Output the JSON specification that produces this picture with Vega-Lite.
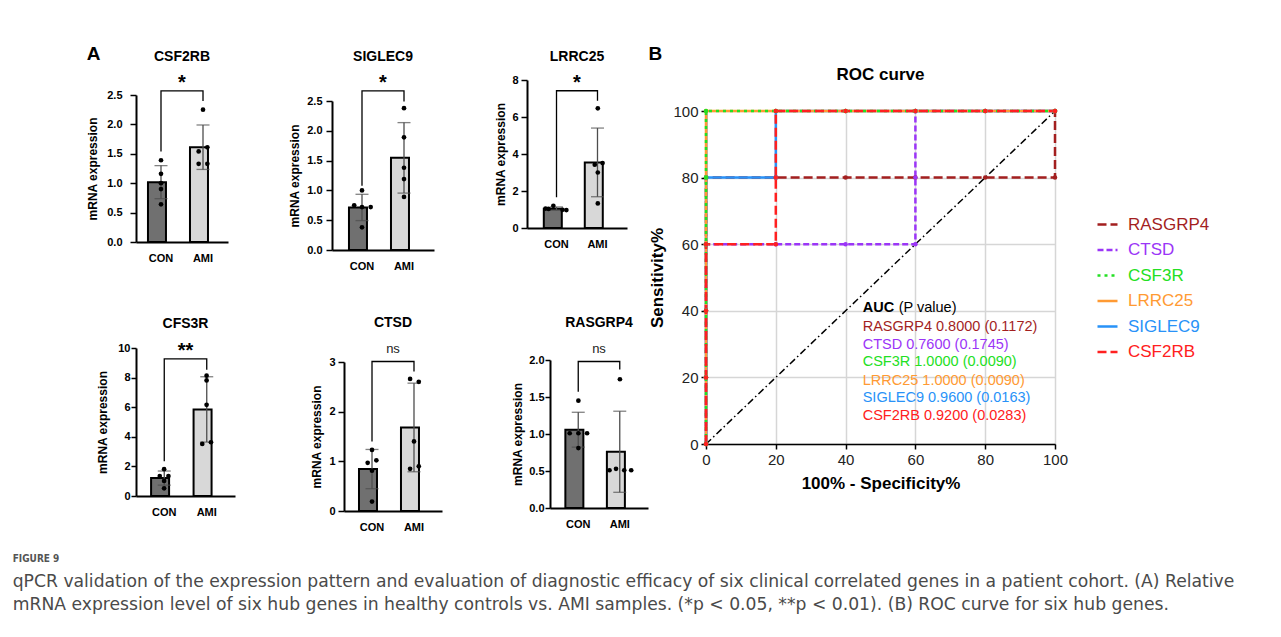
{
  "$schema": "https://vega.github.io/schema/vega-lite/v6.json",
  "background": "white",
  "padding": {"left": 12, "top": 44, "right": 5, "bottom": 5},
  "datasets": {
    "expr": [
      {"gene": "CSF2RB", "group": "CON", "slot": 0, "value": 1.39},
      {"gene": "CSF2RB", "group": "CON", "slot": 0, "value": 1.16},
      {"gene": "CSF2RB", "group": "CON", "slot": 0, "value": 1.0},
      {"gene": "CSF2RB", "group": "CON", "slot": 0, "value": 0.9},
      {"gene": "CSF2RB", "group": "CON", "slot": 0, "value": 0.64},
      {"gene": "CSF2RB", "group": "AMI", "slot": 0, "value": 2.25},
      {"gene": "CSF2RB", "group": "AMI", "slot": 1, "value": 1.61},
      {"gene": "CSF2RB", "group": "AMI", "slot": -1, "value": 1.54},
      {"gene": "CSF2RB", "group": "AMI", "slot": -1, "value": 1.33},
      {"gene": "CSF2RB", "group": "AMI", "slot": 1, "value": 1.33},
      {"gene": "SIGLEC9", "group": "CON", "slot": 0, "value": 1.0},
      {"gene": "SIGLEC9", "group": "CON", "slot": -1.8, "value": 0.75},
      {"gene": "SIGLEC9", "group": "CON", "slot": 0, "value": 0.72},
      {"gene": "SIGLEC9", "group": "CON", "slot": 2, "value": 0.72},
      {"gene": "SIGLEC9", "group": "CON", "slot": 0, "value": 0.38},
      {"gene": "SIGLEC9", "group": "AMI", "slot": 0, "value": 2.38},
      {"gene": "SIGLEC9", "group": "AMI", "slot": 0, "value": 1.89},
      {"gene": "SIGLEC9", "group": "AMI", "slot": 0, "value": 1.38},
      {"gene": "SIGLEC9", "group": "AMI", "slot": 0, "value": 1.19},
      {"gene": "SIGLEC9", "group": "AMI", "slot": 0, "value": 0.89},
      {"gene": "LRRC25", "group": "CON", "slot": -0.8, "value": 1.2},
      {"gene": "LRRC25", "group": "CON", "slot": -2.6, "value": 1.05},
      {"gene": "LRRC25", "group": "CON", "slot": -1.9, "value": 1.03},
      {"gene": "LRRC25", "group": "CON", "slot": 1.3, "value": 0.98},
      {"gene": "LRRC25", "group": "CON", "slot": 2.2, "value": 0.97},
      {"gene": "LRRC25", "group": "AMI", "slot": 0, "value": 6.47},
      {"gene": "LRRC25", "group": "AMI", "slot": -0.7, "value": 3.42},
      {"gene": "LRRC25", "group": "AMI", "slot": 1.1, "value": 3.51},
      {"gene": "LRRC25", "group": "AMI", "slot": 0, "value": 3.0},
      {"gene": "LRRC25", "group": "AMI", "slot": 0, "value": 1.33},
      {"gene": "CFS3R", "group": "CON", "slot": 0, "value": 1.81},
      {"gene": "CFS3R", "group": "CON", "slot": -1, "value": 1.35},
      {"gene": "CFS3R", "group": "CON", "slot": 1, "value": 1.35},
      {"gene": "CFS3R", "group": "CON", "slot": 0, "value": 1.02},
      {"gene": "CFS3R", "group": "CON", "slot": 0, "value": 0.52},
      {"gene": "CFS3R", "group": "AMI", "slot": 0, "value": 8.13},
      {"gene": "CFS3R", "group": "AMI", "slot": 0, "value": 7.81},
      {"gene": "CFS3R", "group": "AMI", "slot": 0, "value": 6.16},
      {"gene": "CFS3R", "group": "AMI", "slot": -1, "value": 3.52},
      {"gene": "CFS3R", "group": "AMI", "slot": 1, "value": 3.63},
      {"gene": "CTSD", "group": "CON", "slot": 0, "value": 1.23},
      {"gene": "CTSD", "group": "CON", "slot": -1, "value": 0.97},
      {"gene": "CTSD", "group": "CON", "slot": 1, "value": 1.02},
      {"gene": "CTSD", "group": "CON", "slot": 0, "value": 0.81},
      {"gene": "CTSD", "group": "CON", "slot": 0, "value": 0.19},
      {"gene": "CTSD", "group": "AMI", "slot": -0.9, "value": 2.66},
      {"gene": "CTSD", "group": "AMI", "slot": 1.1, "value": 2.6},
      {"gene": "CTSD", "group": "AMI", "slot": 0, "value": 1.4},
      {"gene": "CTSD", "group": "AMI", "slot": -0.9, "value": 0.85},
      {"gene": "CTSD", "group": "AMI", "slot": 1.1, "value": 0.9},
      {"gene": "RASGRP4", "group": "CON", "slot": 0, "value": 1.45},
      {"gene": "RASGRP4", "group": "CON", "slot": -2, "value": 1.01},
      {"gene": "RASGRP4", "group": "CON", "slot": 0, "value": 1.01},
      {"gene": "RASGRP4", "group": "CON", "slot": 2, "value": 1.01},
      {"gene": "RASGRP4", "group": "CON", "slot": 0, "value": 0.81},
      {"gene": "RASGRP4", "group": "AMI", "slot": 0, "value": 1.74},
      {"gene": "RASGRP4", "group": "AMI", "slot": -2.4, "value": 0.51},
      {"gene": "RASGRP4", "group": "AMI", "slot": -0.9, "value": 0.53},
      {"gene": "RASGRP4", "group": "AMI", "slot": 1, "value": 0.51},
      {"gene": "RASGRP4", "group": "AMI", "slot": 2.6, "value": 0.51}
    ],
    "bracket": [
      {"gene": "CSF2RB", "group": "CON", "ord": 1, "y": 1.54},
      {"gene": "CSF2RB", "group": "CON", "ord": 2, "y": 2.57},
      {"gene": "CSF2RB", "group": "AMI", "ord": 3, "y": 2.57},
      {"gene": "CSF2RB", "group": "AMI", "ord": 4, "y": 2.4},
      {"gene": "SIGLEC9", "group": "CON", "ord": 1, "y": 1.08},
      {"gene": "SIGLEC9", "group": "CON", "ord": 2, "y": 2.67},
      {"gene": "SIGLEC9", "group": "AMI", "ord": 3, "y": 2.67},
      {"gene": "SIGLEC9", "group": "AMI", "ord": 4, "y": 2.49},
      {"gene": "LRRC25", "group": "CON", "ord": 1, "y": 1.66},
      {"gene": "LRRC25", "group": "CON", "ord": 2, "y": 7.42},
      {"gene": "LRRC25", "group": "AMI", "ord": 3, "y": 7.42},
      {"gene": "LRRC25", "group": "AMI", "ord": 4, "y": 6.88},
      {"gene": "CFS3R", "group": "CON", "ord": 1, "y": 2.34},
      {"gene": "CFS3R", "group": "CON", "ord": 2, "y": 9.26},
      {"gene": "CFS3R", "group": "AMI", "ord": 3, "y": 9.26},
      {"gene": "CFS3R", "group": "AMI", "ord": 4, "y": 8.53},
      {"gene": "CTSD", "group": "CON", "ord": 1, "y": 1.4},
      {"gene": "CTSD", "group": "CON", "ord": 2, "y": 3.01},
      {"gene": "CTSD", "group": "AMI", "ord": 3, "y": 3.01},
      {"gene": "CTSD", "group": "AMI", "ord": 4, "y": 2.81},
      {"gene": "RASGRP4", "group": "CON", "ord": 1, "y": 1.57},
      {"gene": "RASGRP4", "group": "CON", "ord": 2, "y": 1.98},
      {"gene": "RASGRP4", "group": "AMI", "ord": 3, "y": 1.98},
      {"gene": "RASGRP4", "group": "AMI", "ord": 4, "y": 1.87}
    ],
    "sig": [
      {"gene": "CSF2RB", "group": "CON", "label": "*", "y": 2.7},
      {"gene": "SIGLEC9", "group": "CON", "label": "*", "y": 2.8},
      {"gene": "LRRC25", "group": "CON", "label": "*", "y": 7.82},
      {"gene": "CFS3R", "group": "CON", "label": "**", "y": 9.8},
      {"gene": "CTSD", "group": "CON", "label": "ns", "y": 3.26},
      {"gene": "RASGRP4", "group": "CON", "label": "ns", "y": 2.15}
    ],
    "roc": [
      {"gene": "RASGRP4", "step": 1, "fpr": 0, "tpr": 0},
      {"gene": "RASGRP4", "step": 2, "fpr": 0, "tpr": 20},
      {"gene": "RASGRP4", "step": 3, "fpr": 0, "tpr": 40},
      {"gene": "RASGRP4", "step": 4, "fpr": 0, "tpr": 60},
      {"gene": "RASGRP4", "step": 5, "fpr": 0, "tpr": 80},
      {"gene": "RASGRP4", "step": 6, "fpr": 20, "tpr": 80},
      {"gene": "RASGRP4", "step": 7, "fpr": 40, "tpr": 80},
      {"gene": "RASGRP4", "step": 8, "fpr": 60, "tpr": 80},
      {"gene": "RASGRP4", "step": 9, "fpr": 80, "tpr": 80},
      {"gene": "RASGRP4", "step": 10, "fpr": 100, "tpr": 80},
      {"gene": "RASGRP4", "step": 11, "fpr": 100, "tpr": 100},
      {"gene": "CTSD", "step": 1, "fpr": 0, "tpr": 0},
      {"gene": "CTSD", "step": 2, "fpr": 0, "tpr": 20},
      {"gene": "CTSD", "step": 3, "fpr": 0, "tpr": 40},
      {"gene": "CTSD", "step": 4, "fpr": 0, "tpr": 60},
      {"gene": "CTSD", "step": 5, "fpr": 20, "tpr": 60},
      {"gene": "CTSD", "step": 6, "fpr": 40, "tpr": 60},
      {"gene": "CTSD", "step": 7, "fpr": 60, "tpr": 60},
      {"gene": "CTSD", "step": 8, "fpr": 60, "tpr": 80},
      {"gene": "CTSD", "step": 9, "fpr": 60, "tpr": 100},
      {"gene": "CTSD", "step": 10, "fpr": 80, "tpr": 100},
      {"gene": "CTSD", "step": 11, "fpr": 100, "tpr": 100},
      {"gene": "SIGLEC9", "step": 1, "fpr": 0, "tpr": 0},
      {"gene": "SIGLEC9", "step": 2, "fpr": 0, "tpr": 20},
      {"gene": "SIGLEC9", "step": 3, "fpr": 0, "tpr": 40},
      {"gene": "SIGLEC9", "step": 4, "fpr": 0, "tpr": 60},
      {"gene": "SIGLEC9", "step": 5, "fpr": 0, "tpr": 80},
      {"gene": "SIGLEC9", "step": 6, "fpr": 20, "tpr": 80},
      {"gene": "SIGLEC9", "step": 7, "fpr": 20, "tpr": 100},
      {"gene": "SIGLEC9", "step": 8, "fpr": 40, "tpr": 100},
      {"gene": "SIGLEC9", "step": 9, "fpr": 60, "tpr": 100},
      {"gene": "SIGLEC9", "step": 10, "fpr": 80, "tpr": 100},
      {"gene": "SIGLEC9", "step": 11, "fpr": 100, "tpr": 100},
      {"gene": "LRRC25", "step": 1, "fpr": 0, "tpr": 0},
      {"gene": "LRRC25", "step": 2, "fpr": 0, "tpr": 20},
      {"gene": "LRRC25", "step": 3, "fpr": 0, "tpr": 40},
      {"gene": "LRRC25", "step": 4, "fpr": 0, "tpr": 60},
      {"gene": "LRRC25", "step": 5, "fpr": 0, "tpr": 80},
      {"gene": "LRRC25", "step": 6, "fpr": 0, "tpr": 100},
      {"gene": "LRRC25", "step": 7, "fpr": 20, "tpr": 100},
      {"gene": "LRRC25", "step": 8, "fpr": 40, "tpr": 100},
      {"gene": "LRRC25", "step": 9, "fpr": 60, "tpr": 100},
      {"gene": "LRRC25", "step": 10, "fpr": 80, "tpr": 100},
      {"gene": "LRRC25", "step": 11, "fpr": 100, "tpr": 100},
      {"gene": "CSF3R", "step": 1, "fpr": 0, "tpr": 0},
      {"gene": "CSF3R", "step": 2, "fpr": 0, "tpr": 20},
      {"gene": "CSF3R", "step": 3, "fpr": 0, "tpr": 40},
      {"gene": "CSF3R", "step": 4, "fpr": 0, "tpr": 60},
      {"gene": "CSF3R", "step": 5, "fpr": 0, "tpr": 80},
      {"gene": "CSF3R", "step": 6, "fpr": 0, "tpr": 100},
      {"gene": "CSF3R", "step": 7, "fpr": 20, "tpr": 100},
      {"gene": "CSF3R", "step": 8, "fpr": 40, "tpr": 100},
      {"gene": "CSF3R", "step": 9, "fpr": 60, "tpr": 100},
      {"gene": "CSF3R", "step": 10, "fpr": 80, "tpr": 100},
      {"gene": "CSF3R", "step": 11, "fpr": 100, "tpr": 100},
      {"gene": "CSF2RB", "step": 1, "fpr": 0, "tpr": 0},
      {"gene": "CSF2RB", "step": 2, "fpr": 0, "tpr": 20},
      {"gene": "CSF2RB", "step": 3, "fpr": 0, "tpr": 40},
      {"gene": "CSF2RB", "step": 4, "fpr": 0, "tpr": 60},
      {"gene": "CSF2RB", "step": 5, "fpr": 20, "tpr": 60},
      {"gene": "CSF2RB", "step": 6, "fpr": 20, "tpr": 80},
      {"gene": "CSF2RB", "step": 7, "fpr": 20, "tpr": 100},
      {"gene": "CSF2RB", "step": 8, "fpr": 40, "tpr": 100},
      {"gene": "CSF2RB", "step": 9, "fpr": 60, "tpr": 100},
      {"gene": "CSF2RB", "step": 10, "fpr": 80, "tpr": 100},
      {"gene": "CSF2RB", "step": 11, "fpr": 100, "tpr": 100}
    ],
    "auc": [
      {"gene": "RASGRP4", "label": "RASGRP4 0.8000 (0.1172)", "ty": 35.2},
      {"gene": "CTSD", "label": "CTSD 0.7600 (0.1745)", "ty": 29.8},
      {"gene": "CSF3R", "label": "CSF3R 1.0000 (0.0090)", "ty": 24.5},
      {"gene": "LRRC25", "label": "LRRC25 1.0000 (0.0090)", "ty": 19.0},
      {"gene": "SIGLEC9", "label": "SIGLEC9 0.9600 (0.0163)", "ty": 13.7},
      {"gene": "CSF2RB", "label": "CSF2RB 0.9200 (0.0283)", "ty": 8.3}
    ]
  },
  "title": {
    "text": "FIGURE 9",
    "subtitle": [
      "qPCR validation of the expression pattern and evaluation of diagnostic efficacy of six clinical correlated genes in a patient cohort. (A) Relative",
      "mRNA expression level of six hub genes in healthy controls vs. AMI samples. (*p < 0.05, **p < 0.01). (B) ROC curve for six hub genes."
    ],
    "orient": "bottom",
    "anchor": "start",
    "dx": -74,
    "offset": 22,
    "font": "DejaVu Sans Condensed, Liberation Sans",
    "fontSize": 10,
    "fontWeight": "bold",
    "color": "#555555",
    "subtitleFont": "DejaVu Sans",
    "subtitleFontSize": 17.2,
    "subtitleColor": "#4a4a4a",
    "subtitlePadding": 9,
    "subtitleLineHeight": 23
  },
  "resolve": {"scale": {"color": "independent", "strokeDash": "independent", "fill": "independent"}, "legend": {"color": "independent", "strokeDash": "independent"}},
  "spacing": 0,
  "hconcat": [
    {
      "title": {"text": "A", "anchor": "start", "fontSize": 19, "fontWeight": "bold", "offset": -14},
      "spacing": 44,
      "vconcat": [
        {
          "spacing": 60,
          "hconcat": [
            {
              "spacing": 60,
              "hconcat": [
                {
                  "width": 92, "height": 131,
                  "title": {"text": "CSF2RB", "offset": 9},
                  "layer": [
                    {"data": {"name": "expr"}, "transform": [{"filter": "datum.gene === 'CSF2RB'"}],
                     "mark": {"type": "bar", "stroke": "black", "strokeWidth": 2},
                     "encoding": {
                       "x": {"field": "group", "type": "nominal", "title": null, "scale": {"domain": ["CON", "AMI"], "paddingInner": 0.38, "paddingOuter": 0.285}},
                       "y": {"aggregate": "mean", "field": "value", "type": "quantitative", "title": "mRNA expression", "scale": {"domain": [0, 2.5], "range": [131, -16], "nice": false}, "axis": {"values": [0, 0.5, 1, 1.5, 2, 2.5], "tickCount": 12, "format": ".1f", "tickSize": 6, "labelPadding": 8, "titlePadding": 7, "labelOverlap": false}},
                       "fill": {"field": "group", "type": "nominal", "scale": {"domain": ["CON", "AMI"], "range": ["#707070", "#d8d8d8"]}, "legend": null}
                     }},
                    {"data": {"name": "expr"}, "transform": [{"filter": "datum.gene === 'CSF2RB'"}],
                     "mark": {"type": "errorbar", "extent": "stdev", "color": "#4d4d4d", "thickness": 1.3, "ticks": {"size": 13, "color": "#4d4d4d", "thickness": 1.3}},
                     "encoding": {"x": {"field": "group", "type": "nominal", "title": null}, "y": {"field": "value", "type": "quantitative", "title": "mRNA expression"}}},
                    {"data": {"name": "expr"}, "transform": [{"filter": "datum.gene === 'CSF2RB'"}],
                     "mark": {"type": "point", "filled": true, "color": "black", "size": 22, "opacity": 1},
                     "encoding": {"x": {"field": "group", "type": "nominal", "title": null}, "xOffset": {"field": "slot", "type": "quantitative", "scale": {"domain": [-3, 3]}}, "y": {"field": "value", "type": "quantitative", "title": "mRNA expression"}}},
                    {"data": {"name": "bracket"}, "transform": [{"filter": "datum.gene === 'CSF2RB'"}],
                     "mark": {"type": "line", "color": "black", "strokeWidth": 1.3},
                     "encoding": {"x": {"field": "group", "type": "nominal", "title": null}, "y": {"field": "y", "type": "quantitative", "title": "mRNA expression"}, "order": {"field": "ord"}}},
                    {"data": {"name": "sig"}, "transform": [{"filter": "datum.gene === 'CSF2RB'"}],
                     "mark": {"type": "text", "fontSize": 20, "fontWeight": "bold", "baseline": "middle", "color": "black"},
                     "encoding": {"x": {"field": "group", "type": "nominal", "title": null, "bandPosition": 1.306}, "y": {"field": "y", "type": "quantitative", "title": "mRNA expression"}, "text": {"field": "label"}}}
                  ]
                },
                {
                  "width": 102, "height": 139,
                  "title": {"text": "SIGLEC9", "offset": 9},
                  "layer": [
                    {"data": {"name": "expr"}, "transform": [{"filter": "datum.gene === 'SIGLEC9'"}],
                     "mark": {"type": "bar", "stroke": "black", "strokeWidth": 2},
                     "encoding": {
                       "x": {"field": "group", "type": "nominal", "title": null, "scale": {"domain": ["CON", "AMI"], "paddingInner": 0.38, "paddingOuter": 0.404}},
                       "y": {"aggregate": "mean", "field": "value", "type": "quantitative", "title": "mRNA expression", "scale": {"domain": [0, 2.5], "range": [139, -10], "nice": false}, "axis": {"values": [0, 0.5, 1, 1.5, 2, 2.5], "tickCount": 12, "format": ".1f", "tickSize": 6, "labelPadding": 4, "titlePadding": 5, "labelOverlap": false}},
                       "fill": {"field": "group", "type": "nominal", "scale": {"domain": ["CON", "AMI"], "range": ["#707070", "#d8d8d8"]}, "legend": null}
                     }},
                    {"data": {"name": "expr"}, "transform": [{"filter": "datum.gene === 'SIGLEC9'"}],
                     "mark": {"type": "errorbar", "extent": "stdev", "color": "#4d4d4d", "thickness": 1.3, "ticks": {"size": 13, "color": "#4d4d4d", "thickness": 1.3}},
                     "encoding": {"x": {"field": "group", "type": "nominal", "title": null}, "y": {"field": "value", "type": "quantitative", "title": "mRNA expression"}}},
                    {"data": {"name": "expr"}, "transform": [{"filter": "datum.gene === 'SIGLEC9'"}],
                     "mark": {"type": "point", "filled": true, "color": "black", "size": 22, "opacity": 1},
                     "encoding": {"x": {"field": "group", "type": "nominal", "title": null}, "xOffset": {"field": "slot", "type": "quantitative", "scale": {"domain": [-3, 3]}}, "y": {"field": "value", "type": "quantitative", "title": "mRNA expression"}}},
                    {"data": {"name": "bracket"}, "transform": [{"filter": "datum.gene === 'SIGLEC9'"}],
                     "mark": {"type": "line", "color": "black", "strokeWidth": 1.3},
                     "encoding": {"x": {"field": "group", "type": "nominal", "title": null}, "y": {"field": "y", "type": "quantitative", "title": "mRNA expression"}, "order": {"field": "ord"}}},
                    {"data": {"name": "sig"}, "transform": [{"filter": "datum.gene === 'SIGLEC9'"}],
                     "mark": {"type": "text", "fontSize": 20, "fontWeight": "bold", "baseline": "middle", "color": "black"},
                     "encoding": {"x": {"field": "group", "type": "nominal", "title": null, "bandPosition": 1.306}, "y": {"field": "y", "type": "quantitative", "title": "mRNA expression"}, "text": {"field": "label"}}}
                  ]
                }
              ]
            },
            {
              "width": 100, "height": 117,
              "title": {"text": "LRRC25", "offset": 9},
              "layer": [
                {"data": {"name": "expr"}, "transform": [{"filter": "datum.gene === 'LRRC25'"}],
                 "mark": {"type": "bar", "stroke": "black", "strokeWidth": 2},
                 "encoding": {
                   "x": {"field": "group", "type": "nominal", "title": null, "scale": {"domain": ["CON", "AMI"], "paddingInner": 0.38, "paddingOuter": 0.41}},
                   "y": {"aggregate": "mean", "field": "value", "type": "quantitative", "title": "mRNA expression", "scale": {"domain": [0, 8], "range": [117, -31], "nice": false}, "axis": {"values": [0, 2, 4, 6, 8], "tickCount": 12, "format": "d", "tickSize": 6, "labelPadding": 3, "titlePadding": 4, "labelOverlap": false}},
                   "fill": {"field": "group", "type": "nominal", "scale": {"domain": ["CON", "AMI"], "range": ["#707070", "#d8d8d8"]}, "legend": null}
                 }},
                {"data": {"name": "expr"}, "transform": [{"filter": "datum.gene === 'LRRC25'"}],
                 "mark": {"type": "errorbar", "extent": "stdev", "color": "#4d4d4d", "thickness": 1.3, "ticks": {"size": 13, "color": "#4d4d4d", "thickness": 1.3}},
                 "encoding": {"x": {"field": "group", "type": "nominal", "title": null}, "y": {"field": "value", "type": "quantitative", "title": "mRNA expression"}}},
                {"data": {"name": "expr"}, "transform": [{"filter": "datum.gene === 'LRRC25'"}],
                 "mark": {"type": "point", "filled": true, "color": "black", "size": 22, "opacity": 1},
                 "encoding": {"x": {"field": "group", "type": "nominal", "title": null}, "xOffset": {"field": "slot", "type": "quantitative", "scale": {"domain": [-3, 3]}}, "y": {"field": "value", "type": "quantitative", "title": "mRNA expression"}}},
                {"data": {"name": "bracket"}, "transform": [{"filter": "datum.gene === 'LRRC25'"}],
                 "mark": {"type": "line", "color": "black", "strokeWidth": 1.3},
                 "encoding": {"x": {"field": "group", "type": "nominal", "title": null}, "y": {"field": "y", "type": "quantitative", "title": "mRNA expression"}, "order": {"field": "ord"}}},
                {"data": {"name": "sig"}, "transform": [{"filter": "datum.gene === 'LRRC25'"}],
                 "mark": {"type": "text", "fontSize": 20, "fontWeight": "bold", "baseline": "middle", "color": "black"},
                 "encoding": {"x": {"field": "group", "type": "nominal", "title": null, "bandPosition": 1.306}, "y": {"field": "y", "type": "quantitative", "title": "mRNA expression"}, "text": {"field": "label"}}}
              ]
            }
          ]
        },
        {
          "spacing": 75,
          "hconcat": [
            {
              "width": 99, "height": 148,
              "title": {"text": "CFS3R", "offset": 10},
              "layer": [
                {"data": {"name": "expr"}, "transform": [{"filter": "datum.gene === 'CFS3R'"}],
                 "mark": {"type": "bar", "stroke": "black", "strokeWidth": 2},
                 "encoding": {
                   "x": {"field": "group", "type": "nominal", "title": null, "scale": {"domain": ["CON", "AMI"], "paddingInner": 0.38, "paddingOuter": 0.355}},
                   "y": {"aggregate": "mean", "field": "value", "type": "quantitative", "title": "mRNA expression", "scale": {"domain": [0, 10], "range": [148, 0], "nice": false}, "axis": {"values": [0, 2, 4, 6, 8, 10], "tickCount": 12, "format": "d", "tickSize": 5, "labelPadding": 1, "titlePadding": 8, "labelOverlap": false}},
                   "fill": {"field": "group", "type": "nominal", "scale": {"domain": ["CON", "AMI"], "range": ["#707070", "#d8d8d8"]}, "legend": null}
                 }},
                {"data": {"name": "expr"}, "transform": [{"filter": "datum.gene === 'CFS3R'"}],
                 "mark": {"type": "errorbar", "extent": "stdev", "color": "#4d4d4d", "thickness": 1.3, "ticks": {"size": 13, "color": "#4d4d4d", "thickness": 1.3}},
                 "encoding": {"x": {"field": "group", "type": "nominal", "title": null}, "y": {"field": "value", "type": "quantitative", "title": "mRNA expression"}}},
                {"data": {"name": "expr"}, "transform": [{"filter": "datum.gene === 'CFS3R'"}],
                 "mark": {"type": "point", "filled": true, "color": "black", "size": 22, "opacity": 1},
                 "encoding": {"x": {"field": "group", "type": "nominal", "title": null}, "xOffset": {"field": "slot", "type": "quantitative", "scale": {"domain": [-3, 3]}}, "y": {"field": "value", "type": "quantitative", "title": "mRNA expression"}}},
                {"data": {"name": "bracket"}, "transform": [{"filter": "datum.gene === 'CFS3R'"}],
                 "mark": {"type": "line", "color": "black", "strokeWidth": 1.3},
                 "encoding": {"x": {"field": "group", "type": "nominal", "title": null}, "y": {"field": "y", "type": "quantitative", "title": "mRNA expression"}, "order": {"field": "ord"}}},
                {"data": {"name": "sig"}, "transform": [{"filter": "datum.gene === 'CFS3R'"}],
                 "mark": {"type": "text", "fontSize": 20, "fontWeight": "bold", "baseline": "middle", "color": "black"},
                 "encoding": {"x": {"field": "group", "type": "nominal", "title": null, "bandPosition": 1.306}, "y": {"field": "y", "type": "quantitative", "title": "mRNA expression"}, "text": {"field": "label"}}}
              ]
            },
            {
              "spacing": 69,
              "hconcat": [
                {
                  "width": 98, "height": 163,
                  "title": {"text": "CTSD", "offset": 13},
                  "layer": [
                    {"data": {"name": "expr"}, "transform": [{"filter": "datum.gene === 'CTSD'"}],
                     "mark": {"type": "bar", "stroke": "black", "strokeWidth": 2},
                     "encoding": {
                       "x": {"field": "group", "type": "nominal", "title": null, "scale": {"domain": ["CON", "AMI"], "paddingInner": 0.38, "paddingOuter": 0.357}},
                       "y": {"aggregate": "mean", "field": "value", "type": "quantitative", "title": "mRNA expression", "scale": {"domain": [0, 3], "range": [163, 14], "nice": false}, "axis": {"values": [0, 1, 2, 3], "tickCount": 12, "format": "d", "tickSize": 6, "labelPadding": 3, "titlePadding": 5, "labelOverlap": false}},
                       "fill": {"field": "group", "type": "nominal", "scale": {"domain": ["CON", "AMI"], "range": ["#707070", "#d8d8d8"]}, "legend": null}
                     }},
                    {"data": {"name": "expr"}, "transform": [{"filter": "datum.gene === 'CTSD'"}],
                     "mark": {"type": "errorbar", "extent": "stdev", "color": "#4d4d4d", "thickness": 1.3, "ticks": {"size": 13, "color": "#4d4d4d", "thickness": 1.3}},
                     "encoding": {"x": {"field": "group", "type": "nominal", "title": null}, "y": {"field": "value", "type": "quantitative", "title": "mRNA expression"}}},
                    {"data": {"name": "expr"}, "transform": [{"filter": "datum.gene === 'CTSD'"}],
                     "mark": {"type": "point", "filled": true, "color": "black", "size": 22, "opacity": 1},
                     "encoding": {"x": {"field": "group", "type": "nominal", "title": null}, "xOffset": {"field": "slot", "type": "quantitative", "scale": {"domain": [-3, 3]}}, "y": {"field": "value", "type": "quantitative", "title": "mRNA expression"}}},
                    {"data": {"name": "bracket"}, "transform": [{"filter": "datum.gene === 'CTSD'"}],
                     "mark": {"type": "line", "color": "black", "strokeWidth": 1.3},
                     "encoding": {"x": {"field": "group", "type": "nominal", "title": null}, "y": {"field": "y", "type": "quantitative", "title": "mRNA expression"}, "order": {"field": "ord"}}},
                    {"data": {"name": "sig"}, "transform": [{"filter": "datum.gene === 'CTSD'"}],
                     "mark": {"type": "text", "fontSize": 13, "fontWeight": "normal", "baseline": "middle", "color": "#222222"},
                     "encoding": {"x": {"field": "group", "type": "nominal", "title": null, "bandPosition": 1.306}, "y": {"field": "y", "type": "quantitative", "title": "mRNA expression"}, "text": {"field": "label"}}}
                  ]
                },
                {
                  "width": 98, "height": 160,
                  "title": {"text": "RASGRP4", "offset": 13},
                  "layer": [
                    {"data": {"name": "expr"}, "transform": [{"filter": "datum.gene === 'RASGRP4'"}],
                     "mark": {"type": "bar", "stroke": "black", "strokeWidth": 2},
                     "encoding": {
                       "x": {"field": "group", "type": "nominal", "title": null, "scale": {"domain": ["CON", "AMI"], "paddingInner": 0.38, "paddingOuter": 0.37}},
                       "y": {"aggregate": "mean", "field": "value", "type": "quantitative", "title": "mRNA expression", "scale": {"domain": [0, 2], "range": [160, 12], "nice": false}, "axis": {"values": [0, 0.5, 1, 1.5, 2], "tickCount": 12, "format": ".1f", "tickSize": 5, "labelPadding": 1, "titlePadding": 4, "labelOverlap": false}},
                       "fill": {"field": "group", "type": "nominal", "scale": {"domain": ["CON", "AMI"], "range": ["#707070", "#d8d8d8"]}, "legend": null}
                     }},
                    {"data": {"name": "expr"}, "transform": [{"filter": "datum.gene === 'RASGRP4'"}],
                     "mark": {"type": "errorbar", "extent": "stdev", "color": "#4d4d4d", "thickness": 1.3, "ticks": {"size": 13, "color": "#4d4d4d", "thickness": 1.3}},
                     "encoding": {"x": {"field": "group", "type": "nominal", "title": null}, "y": {"field": "value", "type": "quantitative", "title": "mRNA expression"}}},
                    {"data": {"name": "expr"}, "transform": [{"filter": "datum.gene === 'RASGRP4'"}],
                     "mark": {"type": "point", "filled": true, "color": "black", "size": 22, "opacity": 1},
                     "encoding": {"x": {"field": "group", "type": "nominal", "title": null}, "xOffset": {"field": "slot", "type": "quantitative", "scale": {"domain": [-3, 3]}}, "y": {"field": "value", "type": "quantitative", "title": "mRNA expression"}}},
                    {"data": {"name": "bracket"}, "transform": [{"filter": "datum.gene === 'RASGRP4'"}],
                     "mark": {"type": "line", "color": "black", "strokeWidth": 1.3},
                     "encoding": {"x": {"field": "group", "type": "nominal", "title": null}, "y": {"field": "y", "type": "quantitative", "title": "mRNA expression"}, "order": {"field": "ord"}}},
                    {"data": {"name": "sig"}, "transform": [{"filter": "datum.gene === 'RASGRP4'"}],
                     "mark": {"type": "text", "fontSize": 13, "fontWeight": "normal", "baseline": "middle", "color": "#222222"},
                     "encoding": {"x": {"field": "group", "type": "nominal", "title": null, "bandPosition": 1.306}, "y": {"field": "y", "type": "quantitative", "title": "mRNA expression"}, "text": {"field": "label"}}}
                  ]
                }
              ]
            }
          ]
        }
      ]
    },
    {
      "title": {"text": "B", "anchor": "start", "fontSize": 19, "fontWeight": "bold", "offset": 2},
      "resolve": {"scale": {"color": "independent", "strokeDash": "independent"}, "legend": {"color": "independent", "strokeDash": "independent"}},
      "vconcat": [
        {
          "width": 349, "height": 333,
          "title": {"text": "ROC curve", "fontSize": 17, "fontWeight": "bold", "offset": 20},
          "view": {"stroke": "#222222", "strokeWidth": 1},
          "layer": [
            {"data": {"values": [{"fpr": 0, "tpr": 0}, {"fpr": 100, "tpr": 100}]},
             "mark": {"type": "line", "color": "black", "strokeWidth": 1.5, "strokeDash": [7, 3, 1.5, 3]},
             "encoding": {
               "x": {"field": "fpr", "type": "quantitative", "title": "100% - Specificity%", "scale": {"domain": [0, 100], "nice": false}, "axis": {"values": [0, 20, 40, 60, 80, 100], "tickCount": 12, "grid": true, "gridColor": "#d6d6d6", "gridWidth": 1.5, "ticks": true, "tickSize": 5, "domainWidth": 1.5, "labelFontWeight": "normal", "labelFontSize": 15, "labelColor": "#222222", "labelPadding": 3, "titleFontSize": 17, "titlePadding": 8, "labelOverlap": false}},
               "y": {"field": "tpr", "type": "quantitative", "title": "Sensitivity%", "scale": {"domain": [0, 100], "nice": false}, "axis": {"values": [0, 20, 40, 60, 80, 100], "tickCount": 12, "grid": true, "gridColor": "#d6d6d6", "gridWidth": 1.5, "ticks": true, "tickSize": 5, "domainWidth": 1.5, "labelFontWeight": "normal", "labelFontSize": 15, "labelColor": "#222222", "labelPadding": 3, "titleFontSize": 17, "titlePadding": 6, "labelOverlap": false}}
             }},
            {"data": {"name": "roc"},
             "mark": {"type": "line", "strokeWidth": 2.5},
             "encoding": {
               "x": {"field": "fpr", "type": "quantitative", "title": "100% - Specificity%"},
               "y": {"field": "tpr", "type": "quantitative", "title": "Sensitivity%"},
               "order": {"field": "step"},
               "color": {"field": "gene", "type": "nominal",
                 "scale": {"domain": ["RASGRP4", "CTSD", "CSF3R", "LRRC25", "SIGLEC9", "CSF2RB"], "range": ["#a31f1f", "#9b35f7", "#23e023", "#ff9a33", "#2892f8", "#ff2020"]},
                 "legend": {"orient": "none", "legendX": 390, "legendY": 102, "title": null, "labelFontSize": 17, "labelFont": "Liberation Sans", "symbolType": "stroke", "symbolStrokeWidth": 2.5, "symbolSize": 400, "rowPadding": 5.5, "labelOffset": 9, "padding": 0,
                   "encode": {"labels": {"update": {"fill": {"signal": "datum.value === 'RASGRP4' ? '#a31f1f' : datum.value === 'CTSD' ? '#9b35f7' : datum.value === 'CSF3R' ? '#23e023' : datum.value === 'LRRC25' ? '#ff9a33' : datum.value === 'SIGLEC9' ? '#2892f8' : '#ff2020'"}}}}}},
               "strokeDash": {"field": "gene", "type": "nominal",
                 "scale": {"domain": ["RASGRP4", "CTSD", "CSF3R", "LRRC25", "SIGLEC9", "CSF2RB"], "range": [[9, 4], [6, 3], [3, 4], [1, 0], [1, 0], [9, 4]]},
                 "legend": {"orient": "none", "legendX": 390, "legendY": 102, "title": null, "labelFontSize": 17, "labelFont": "Liberation Sans", "symbolType": "stroke", "symbolStrokeWidth": 2.5, "symbolSize": 400, "rowPadding": 5.5, "labelOffset": 9, "padding": 0,
                   "encode": {"labels": {"update": {"fill": {"signal": "datum.value === 'RASGRP4' ? '#a31f1f' : datum.value === 'CTSD' ? '#9b35f7' : datum.value === 'CSF3R' ? '#23e023' : datum.value === 'LRRC25' ? '#ff9a33' : datum.value === 'SIGLEC9' ? '#2892f8' : '#ff2020'"}}}}}}
             }},
            {"data": {"name": "roc"},
             "mark": {"type": "point", "filled": true, "size": 20, "opacity": 1},
             "encoding": {
               "x": {"field": "fpr", "type": "quantitative", "title": "100% - Specificity%"},
               "y": {"field": "tpr", "type": "quantitative", "title": "Sensitivity%"},
               "color": {"field": "gene", "type": "nominal", "legend": null}
             }},
            {"data": {"values": [{"t": "AUC"}]},
             "mark": {"type": "text", "align": "left", "baseline": "middle", "fontSize": 14.5, "fontWeight": "bold", "color": "black"},
             "encoding": {"x": {"datum": 44.9}, "y": {"datum": 40.7}, "text": {"field": "t"}}},
            {"data": {"values": [{"t": "(P value)"}]},
             "mark": {"type": "text", "align": "left", "baseline": "middle", "fontSize": 14.5, "fontWeight": "normal", "color": "black", "dx": 36},
             "encoding": {"x": {"datum": 44.9}, "y": {"datum": 40.7}, "text": {"field": "t"}}},
            {"data": {"name": "auc"},
             "mark": {"type": "text", "align": "left", "baseline": "middle", "fontSize": 14.5},
             "encoding": {"x": {"datum": 44.9}, "y": {"field": "ty", "type": "quantitative"}, "text": {"field": "label"}, "color": {"field": "gene", "type": "nominal", "legend": null}}}
          ]
        }
      ]
    }
  ],
  "config": {
    "font": "Liberation Sans",
    "view": {"stroke": null},
    "axis": {"domainColor": "#000000", "tickColor": "#000000", "labelColor": "#000000", "titleColor": "#000000", "grid": false, "domainWidth": 2, "tickWidth": 1.5, "labelFontWeight": "bold", "labelFontSize": 11, "titleFontSize": 12, "titleFontWeight": "bold", "labelFont": "Liberation Sans", "titleFont": "Liberation Sans", "labelOverlap": false, "labelFlush": false},
    "axisX": {"ticks": false, "labelAngle": 0, "labelPadding": 10},
    "title": {"fontSize": 14, "fontWeight": "bold", "color": "#000000", "font": "Liberation Sans", "offset": 3}
  }
}
